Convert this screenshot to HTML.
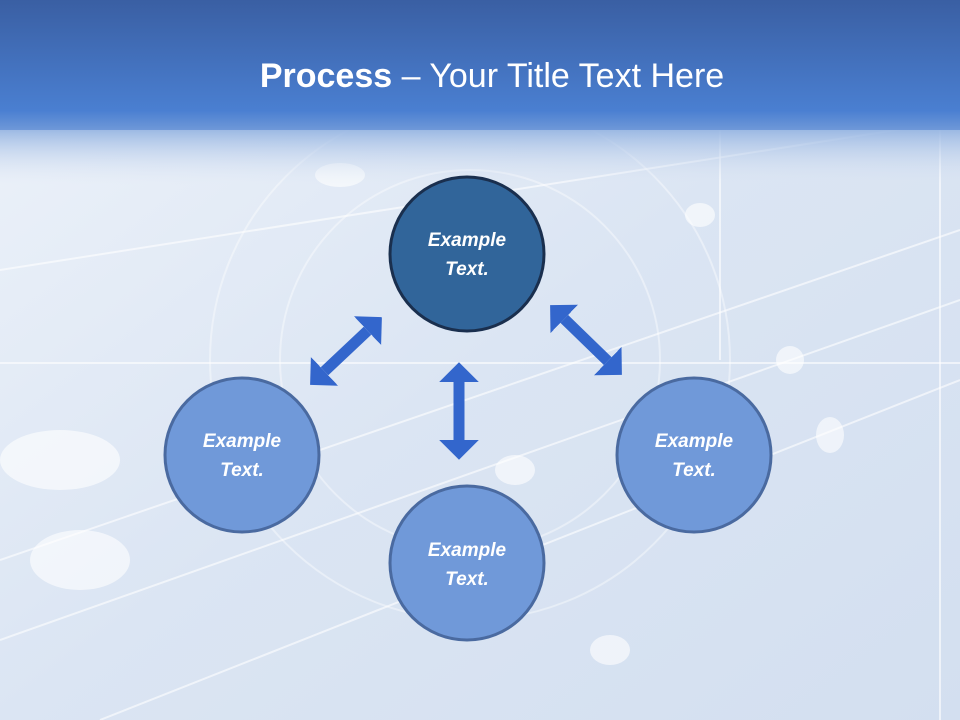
<!DOCTYPE html>
<html><head><style>
html,body{margin:0;padding:0;width:960px;height:720px;overflow:hidden}
</style></head><body>
<svg width="960" height="720" xmlns="http://www.w3.org/2000/svg">
<defs>
<linearGradient id="hd" x1="0" y1="0" x2="0" y2="1">
<stop offset="0" stop-color="#3a5fa3"/><stop offset="0.85" stop-color="#4a7fd1"/><stop offset="1" stop-color="#6f98d8"/>
</linearGradient>
<linearGradient id="fade" x1="0" y1="0" x2="0" y2="1">
<stop offset="0" stop-color="#8fb0e0"/><stop offset="1" stop-color="#dfe7f4" stop-opacity="0"/>
</linearGradient>
<linearGradient id="bg" x1="0" y1="0" x2="1" y2="1">
<stop offset="0" stop-color="#eef3fa"/><stop offset="0.5" stop-color="#dbe5f3"/><stop offset="1" stop-color="#d3dff0"/>
</linearGradient>
<marker id="m" viewBox="0 0 10 20" refX="0" refY="10" markerWidth="1.8" markerHeight="3.8" orient="auto-start-reverse"><path d="M0,0L10,10L0,20z" fill="#3366cc"/></marker>
</defs>
<rect width="960" height="720" fill="url(#bg)"/>
<g stroke="#ffffff" stroke-opacity="0.6" fill="none" stroke-width="2">
<line x1="0" y1="363" x2="960" y2="363"/>
<line x1="940" y1="130" x2="940" y2="720"/>
<line x1="720" y1="130" x2="720" y2="360"/>
<line x1="0" y1="270" x2="960" y2="120"/>
<line x1="0" y1="560" x2="960" y2="230"/>
<line x1="100" y1="720" x2="960" y2="380"/>
<line x1="0" y1="640" x2="960" y2="300"/>
<circle cx="470" cy="360" r="260" stroke-opacity="0.4"/>
<circle cx="470" cy="360" r="190" stroke-opacity="0.4"/>
</g>
<g fill="#ffffff" opacity="0.6">
<ellipse cx="60" cy="460" rx="60" ry="30"/><ellipse cx="80" cy="560" rx="50" ry="30"/>
<ellipse cx="340" cy="175" rx="25" ry="12"/><ellipse cx="790" cy="360" rx="14" ry="14"/>
<ellipse cx="830" cy="435" rx="14" ry="18"/><ellipse cx="700" cy="215" rx="15" ry="12"/>
<ellipse cx="515" cy="470" rx="20" ry="15"/><ellipse cx="610" cy="650" rx="20" ry="15"/>
</g>
<rect y="125" width="960" height="60" fill="url(#fade)"/>
<rect width="960" height="130" fill="url(#hd)"/>
<text x="492" y="87" text-anchor="middle" font-family="Liberation Sans, sans-serif" font-size="34" fill="#fff"><tspan font-weight="bold">Process</tspan> – Your Title Text Here</text>
<g stroke="#3366cc" stroke-width="11" marker-start="url(#m)" marker-end="url(#m)">
<line x1="367.5" y1="330.7" x2="324.5" y2="371.3"/>
<line x1="564.3" y1="318.9" x2="607.7" y2="361.1"/>
<line x1="459" y1="382" x2="459" y2="440"/>
</g>
<g font-family="Liberation Sans, sans-serif" font-size="19" font-weight="bold" font-style="italic" fill="#fff" text-anchor="middle">
<circle cx="467" cy="254" r="77" fill="#31659a" stroke="#1a2f4e" stroke-width="3"/>
<text x="467" y="246">Example</text><text x="467" y="275">Text.</text>
<circle cx="242" cy="455" r="77" fill="#7099d9" stroke="#4a6aa0" stroke-width="3"/>
<text x="242" y="447">Example</text><text x="242" y="476">Text.</text>
<circle cx="694" cy="455" r="77" fill="#7099d9" stroke="#4a6aa0" stroke-width="3"/>
<text x="694" y="447">Example</text><text x="694" y="476">Text.</text>
<circle cx="467" cy="563" r="77" fill="#7099d9" stroke="#4a6aa0" stroke-width="3"/>
<text x="467" y="556">Example</text><text x="467" y="585">Text.</text>
</g>
</svg>
</body></html>
